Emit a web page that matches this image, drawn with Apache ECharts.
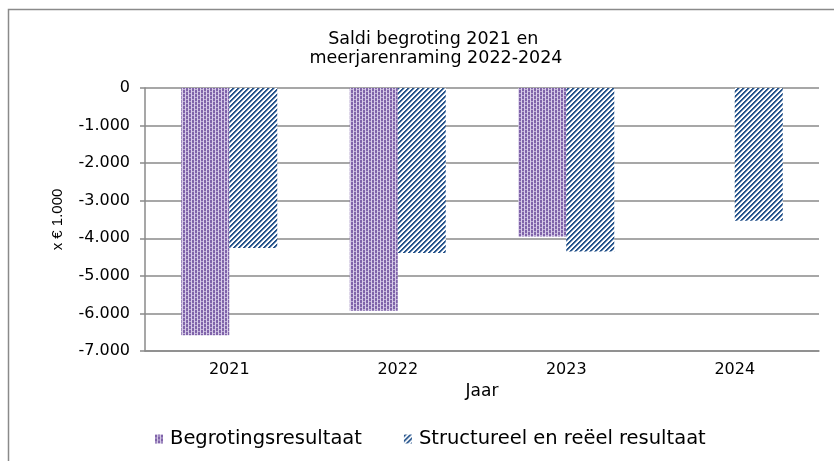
<!DOCTYPE html>
<html>
<head>
<meta charset="utf-8">
<script src="https://cdn.jsdelivr.net/npm/echarts@6/dist/echarts.min.js"></script>
<style>
html,body{margin:0;padding:0;background:#fff;}
#chart{width:834px;height:461px;}
</style>
</head>
<body>
<div id="chart"></div>
<script>
var categories = ['2021', '2022', '2023', '2024'];
var begrotingsresultaat = [-6580, -5930, -3950, null];
var structureelResultaat = [-4260, -4390, -4350, -3530];
var yTicks = [0, -1000, -2000, -3000, -4000, -5000, -6000, -7000];

function purplePattern() {
  var c = document.createElement('canvas');
  c.width = 6; c.height = 4;
  var g = c.getContext('2d');
  g.fillStyle = '#8064AA';
  g.fillRect(0, 0, 6, 4);
  g.fillStyle = '#D8CDE8';
  g.fillRect(2, 0, 1, 4);
  g.fillRect(5, 0, 1, 4);
  g.fillStyle = '#BEAED7';
  g.fillRect(0, 3, 2, 1);
  g.fillRect(3, 1, 2, 1);
  return c;
}
function bluePattern() {
  var c = document.createElement('canvas');
  c.width = 5; c.height = 5;
  var g = c.getContext('2d');
  g.fillStyle = '#ffffff';
  g.fillRect(0, 0, 5, 5);
  for (var x = 0; x < 5; x++) {
    for (var y = 0; y < 5; y++) {
      var m = (x + y) % 5;
      if (m < 2) { g.fillStyle = '#26548B'; g.fillRect(x, y, 1, 1); }
      else if (m === 2) { g.fillStyle = '#9AB0CD'; g.fillRect(x, y, 1, 1); }
    }
  }
  return c;
}

var font = '"DejaVu Sans", Verdana, sans-serif';
var chart = echarts.init(document.getElementById('chart'));
chart.setOption({
  animation: false,
  backgroundColor: '#fff',
  textStyle: { fontFamily: font },
  title: {
    text: 'Saldi begroting 2021 en \nmeerjarenraming 2022-2024',
    left: 431, top: 25, textAlign: 'center',
    textStyle: { fontFamily: font, fontSize: 17.5, fontWeight: 'normal', color: '#000', lineHeight: 19 }
  },
  graphic: [{
    type: 'polyline',
    shape: { points: [[8.5, 461], [8.5, 9.5], [834, 9.5]] },
    style: { stroke: '#8a8a8a', lineWidth: 1.5, fill: null },
    silent: true
  }],
  legend: {
    bottom: 7, left: 150,
    itemWidth: 8, itemHeight: 9, itemGap: 42,
    icon: 'rect',
    textStyle: { fontFamily: font, fontSize: 19.5, color: '#000', padding: [0, 0, 0, 2] },
    data: ['Begrotingsresultaat', 'Structureel en reëel resultaat']
  },
  grid: { left: 145, right: 15, top: 88, bottom: 110 },
  xAxis: {
    type: 'category',
    data: categories,
    name: 'Jaar',
    nameLocation: 'middle',
    nameGap: 31,
    nameTextStyle: { fontFamily: font, fontSize: 17, color: '#000' },
    axisLine: { onZero: false, lineStyle: { color: '#8a8a8a', width: 1.5 } },
    axisTick: { show: false },
    axisLabel: { fontFamily: font, fontSize: 16, color: '#000', margin: 11 }
  },
  yAxis: {
    type: 'value',
    min: -7000, max: 0, interval: 1000,
    name: 'x € 1.000',
    nameLocation: 'middle',
    nameGap: 80,
    nameRotate: 90,
    nameTextStyle: { fontFamily: '"Liberation Sans", Arial, sans-serif', fontSize: 15, color: '#000' },
    axisLine: { show: true, lineStyle: { color: '#8a8a8a', width: 1.5 } },
    axisTick: { show: true, length: 5, lineStyle: { color: '#8a8a8a', width: 1.5 } },
    splitLine: { lineStyle: { color: '#8a8a8a', width: 1.5 } },
    axisLabel: {
      fontFamily: font, fontSize: 16, color: '#000', margin: 15,
      formatter: function (v) {
        if (yTicks.indexOf(v) < 0) return '';
        var s = Math.abs(v).toString().replace(/\B(?=(\d{3})+(?!\d))/g, '.');
        return (v < 0 ? '-' : '') + s;
      }
    }
  },
  series: [{
    name: 'Begrotingsresultaat',
    type: 'bar',
    data: begrotingsresultaat,
    barWidth: 48,
    barGap: '0%',
    itemStyle: { color: { image: purplePattern(), repeat: 'repeat' } }
  }, {
    name: 'Structureel en reëel resultaat',
    type: 'bar',
    data: structureelResultaat,
    barWidth: 48,
    barGap: '0%',
    itemStyle: { color: { image: bluePattern(), repeat: 'repeat' } }
  }]
});
</script>
</body>
</html>
